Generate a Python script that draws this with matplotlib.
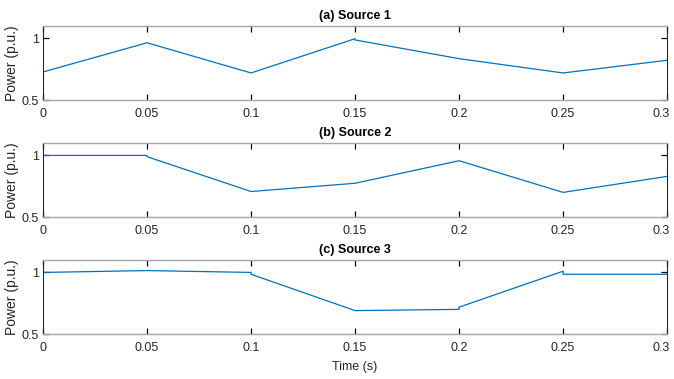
import matplotlib.pyplot as plt
import matplotlib.transforms as mtransforms

plt.rcParams['font.family'] = ['Liberation Sans', 'DejaVu Sans']

t1 = [0, 0.05, 0.1, 0.15, 0.15, 0.2, 0.25, 0.3]
p1 = [0.728, 0.965, 0.72, 0.998, 0.988, 0.836, 0.72, 0.823]

t2 = [0, 0.05, 0.05, 0.1, 0.15, 0.2, 0.25, 0.3]
p2 = [1.0, 1.0, 0.99, 0.707, 0.774, 0.957, 0.70, 0.83]

t3 = [0, 0.05, 0.1, 0.1, 0.15, 0.2, 0.2, 0.25, 0.25, 0.3]
p3 = [1.0, 1.015, 1.0, 0.985, 0.69, 0.70, 0.718, 1.01, 0.985, 0.985]

titles = ["(a) Source 1", "(b) Source 2", "(c) Source 3"]
xticks = [0, 0.05, 0.1, 0.15, 0.2, 0.25, 0.3]
xticklabels = ["0", "0.05", "0.1", "0.15", "0.2", "0.25", "0.3"]
yticks = [0.5, 1]
yticklabels = ["0.5", "1"]

fig = plt.figure(figsize=(6.74, 3.79), dpi=100)
bottoms = [0.736, 0.4274, 0.1187]
series = [(t1, p1), (t2, p2), (t3, p3)]

for i, (t, p) in enumerate(series):
    ax = fig.add_axes([0.0638, bottoms[i], 0.926, 0.195])
    ax.plot(t, p, color='#0072BD', lw=0.9)
    ax.set_xlim(0, 0.3)
    ax.set_ylim(0.5, 1.1)
    ax.set_xticks(xticks)
    ax.set_xticklabels(xticklabels)
    ax.set_yticks(yticks)
    ax.set_yticklabels(yticklabels)
    ax.tick_params(direction='in', top=True, right=True, length=4.5, width=0.9,
                   labelsize=9, labelcolor='#262626')
    ax.tick_params(axis='x', pad=6)
    ax.tick_params(axis='y', pad=3)
    # last label sits on the figure edge, nudge it in a bit
    last = ax.get_xticklabels()[-1]
    last.set_transform(last.get_transform() +
                       mtransforms.ScaledTranslation(-4 / 72, 0, fig.dpi_scale_trans))
    for s in ['left', 'right']:
        ax.spines[s].set_color('#262626')
        ax.spines[s].set_linewidth(0.8)
    for s in ['top', 'bottom']:
        ax.spines[s].set_color('#a6a6a6')
        ax.spines[s].set_linewidth(1.0)
    ax.set_title(titles[i], fontsize=9, fontweight='bold', pad=5)
    ax.set_ylabel("Power (p.u.)", fontsize=10, color='#262626', labelpad=2)
    if i == 2:
        ax.set_xlabel("Time (s)", fontsize=9, color='#262626', labelpad=5)

fig.savefig("out.png", dpi=100)
